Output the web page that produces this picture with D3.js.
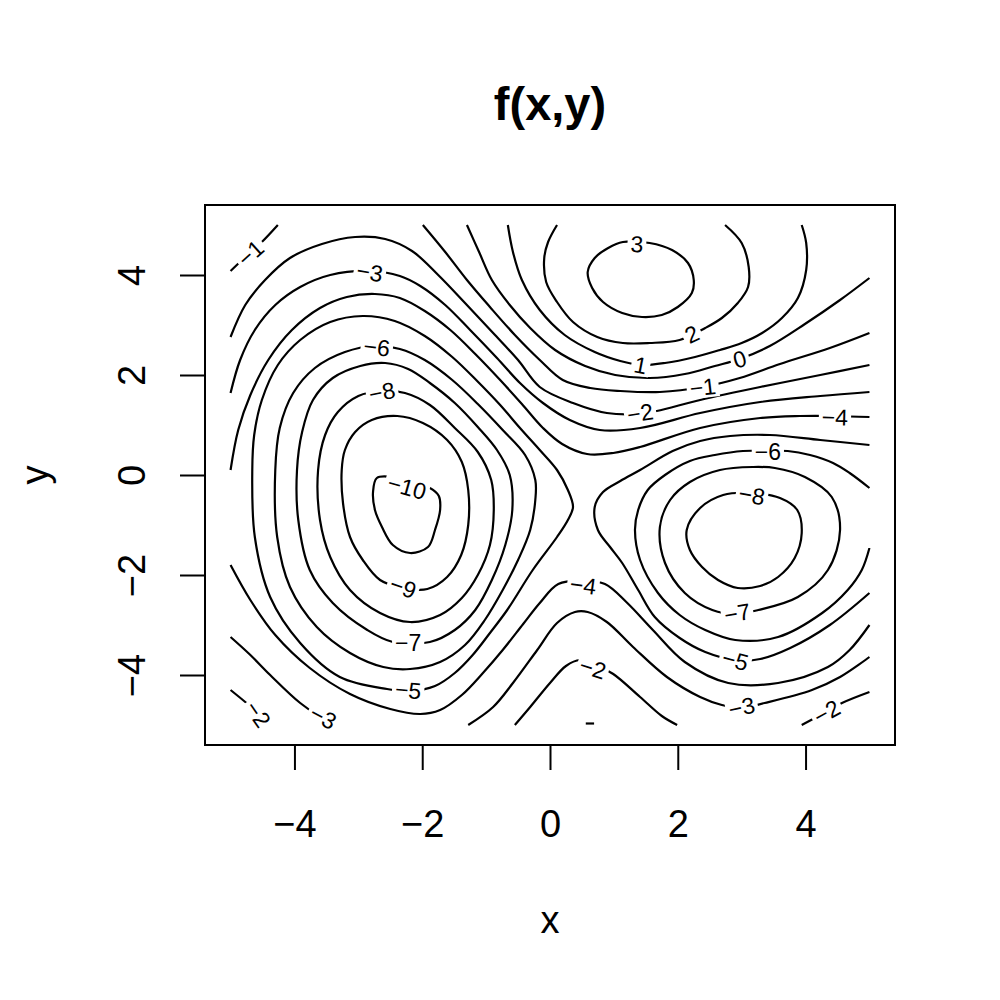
<!DOCTYPE html>
<html><head><meta charset="utf-8">
<script src="https://cdn.jsdelivr.net/npm/d3@7"></script>
<style>body{margin:0;background:#fff}svg{display:block}</style>
</head><body><svg id="chart" width="1000" height="1000"></svg>
<script>
const FONT = '"Liberation Sans", Arial, Helvetica, sans-serif';
const titleText = "f(x,y)", xLabel = "x", yLabel = "y";
const xTicks = [-4, -2, 0, 2, 4];
const yTicks = [-4, -2, 0, 2, 4];
const xDomain = [-5.4, 5.4], yDomain = [-5.4, 5.4];

// contour pieces, points [x, y]
const c3 = [[1.14,4.66],[1.56,4.64],[1.91,4.50],[2.16,4.24],[2.25,3.90],[2.22,3.64],[2.00,3.36],[1.75,3.20],[1.44,3.16],[1.13,3.24],[0.83,3.46],[0.66,3.74],[0.59,4.06],[0.70,4.34],[0.91,4.54]];
const c2 = [[0.11,5.00],[-0.03,4.66],[-0.09,4.34],[-0.06,3.86],[0.11,3.46],[0.36,3.06],[0.74,2.76],[1.14,2.64],[1.56,2.64],[2.03,2.70],[2.43,2.94],[2.69,3.14],[2.94,3.44],[3.10,3.76],[3.11,4.16],[3.00,4.64],[2.74,5.00]];
const c1 = [[-0.66,5.00],[-0.58,4.46],[-0.44,3.90],[-0.16,3.30],[0.23,2.80],[0.70,2.46],[1.10,2.28],[1.42,2.20],[1.80,2.24],[2.27,2.36],[2.66,2.50],[3.00,2.64],[3.32,2.84],[3.63,3.14],[3.88,3.54],[4.01,4.10],[4.01,4.64],[3.94,5.00]];
const c0 = [[-1.30,5.00],[-1.11,4.46],[-0.91,3.90],[-0.63,3.40],[-0.31,2.94],[0.08,2.50],[0.55,2.18],[1.02,2.00],[1.56,1.94],[2.11,2.02],[2.58,2.18],[2.97,2.32],[3.44,2.58],[3.99,3.02],[4.54,3.50],[5.00,3.94]];
const cm1Corner = [[-5.00,4.08],[-4.77,4.36],[-4.51,4.66],[-4.26,5.00]];
const cm1Main = [[-1.99,5.00],[-1.64,4.46],[-1.30,3.90],[-0.94,3.36],[-0.55,2.80],[-0.16,2.30],[0.20,1.90],[0.63,1.74],[1.10,1.68],[1.72,1.66],[2.39,1.76],[2.97,1.94],[3.60,2.22],[4.38,2.54],[5.00,2.84]];
const cm1Bottom = [[0.56,-4.97],[0.69,-4.97]];
const cm2Main = [[-5.00,2.76],[-4.77,3.40],[-4.46,3.90],[-4.07,4.34],[-3.57,4.62],[-3.05,4.76],[-2.58,4.72],[-2.16,4.48],[-1.75,4.00],[-1.33,3.44],[-0.89,2.84],[-0.50,2.30],[-0.16,1.76],[0.36,1.44],[0.89,1.24],[1.38,1.22],[1.67,1.28],[2.35,1.50],[3.29,1.76],[4.23,2.00],[5.00,2.20]];
const cm2BL = [[-5.00,-4.30],[-4.77,-4.54],[-4.57,-4.76],[-4.44,-5.00]];
const cm2Arch = [[-0.55,-5.00],[-0.31,-4.64],[0.00,-4.16],[0.25,-3.82],[0.47,-3.70],[0.72,-3.80],[0.99,-3.98],[1.41,-4.44],[1.75,-4.82],[1.99,-5.00]];
const cm2BR = [[3.94,-5.00],[4.23,-4.80],[4.57,-4.56],[5.00,-4.34]];
const cm3Main = [[-5.00,1.64],[-4.85,2.30],[-4.62,2.90],[-4.30,3.40],[-3.91,3.76],[-3.44,4.00],[-2.82,4.08],[-2.35,3.98],[-2.03,3.78],[-1.64,3.40],[-1.25,2.90],[-0.83,2.34],[-0.47,1.84],[-0.11,1.44],[0.31,1.10],[0.78,0.90],[1.41,0.94],[2.35,1.24],[3.29,1.46],[4.23,1.58],[5.00,1.66]];
const cm3BL = [[-5.00,-3.24],[-4.69,-3.60],[-4.38,-4.00],[-3.91,-4.56],[-3.57,-4.86],[-3.36,-5.00]];
const cm3Arch = [[-1.28,-5.00],[-0.89,-4.64],[-0.58,-4.16],[-0.20,-3.50],[0.11,-2.96],[0.39,-2.74],[0.59,-2.74],[0.89,-2.94],[1.30,-3.44],[1.83,-4.04],[2.35,-4.44],[2.69,-4.60],[3.00,-4.66],[3.36,-4.56],[4.10,-4.30],[4.54,-4.04],[5.00,-3.64]];
const cm4Upper = [[-5.00,0.10],[-4.88,0.90],[-4.69,1.60],[-4.41,2.30],[-4.04,2.90],[-3.60,3.34],[-3.18,3.56],[-2.74,3.62],[-2.35,3.54],[-1.96,3.28],[-1.56,2.90],[-1.17,2.42],[-0.78,1.90],[-0.44,1.42],[-0.11,0.94],[0.19,0.62],[0.58,0.42],[0.99,0.44],[1.41,0.56],[2.35,0.94],[3.29,1.14],[3.91,1.18],[4.46,1.18],[5.00,1.16]];
const cm4Lower = [[-5.00,-1.80],[-4.69,-2.50],[-4.30,-3.20],[-3.76,-3.86],[-3.13,-4.38],[-2.50,-4.68],[-2.03,-4.78],[-1.72,-4.70],[-1.38,-4.40],[-1.05,-3.96],[-0.74,-3.50],[-0.42,-2.98],[-0.16,-2.56],[0.13,-2.18],[0.52,-2.12],[0.86,-2.18],[1.21,-2.56],[1.61,-3.10],[2.11,-3.74],[2.79,-4.16],[3.57,-4.16],[4.35,-3.84],[4.69,-3.50],[5.00,-3.00]];
const cm5Left = [[-4.66,0.10],[-4.62,-1.24],[-4.38,-2.44],[-3.91,-3.36],[-3.29,-4.04],[-2.55,-4.28],[-2.19,-4.32],[-1.80,-4.22],[-1.49,-3.96],[-1.21,-3.60],[-0.94,-3.16],[-0.67,-2.70],[-0.27,-1.90],[0.11,-1.24],[0.28,-0.90],[0.36,-0.64],[0.28,-0.30],[0.11,0.10],[-0.16,0.50],[-0.47,0.94],[-0.78,1.40],[-1.14,1.88],[-1.53,2.36],[-1.96,2.78],[-2.43,3.08],[-2.93,3.18],[-3.44,3.06],[-3.91,2.70],[-4.26,2.20],[-4.51,1.50],[-4.63,0.80]];
const cm5Right = [[5.00,0.60],[4.23,0.70],[3.44,0.80],[2.82,0.78],[2.35,0.68],[1.92,0.48],[1.41,0.10],[1.10,-0.12],[0.83,-0.34],[0.70,-0.64],[0.75,-1.10],[0.94,-1.44],[1.13,-1.76],[1.38,-2.30],[1.64,-2.84],[2.03,-3.26],[2.43,-3.54],[2.90,-3.70],[3.29,-3.68],[3.76,-3.46],[4.38,-3.00],[5.00,-2.36]];
const cm6Left = [[-4.30,0.10],[-4.27,-1.24],[-4.07,-2.24],[-3.65,-3.04],[-3.13,-3.56],[-2.61,-3.84],[-2.19,-3.88],[-1.72,-3.74],[-1.33,-3.40],[-1.02,-2.90],[-0.74,-2.30],[-0.50,-1.70],[-0.31,-1.10],[-0.23,-0.50],[-0.23,-0.10],[-0.39,0.40],[-0.74,0.90],[-1.13,1.42],[-1.53,1.90],[-1.96,2.30],[-2.35,2.52],[-2.74,2.58],[-3.21,2.46],[-3.68,2.14],[-4.02,1.64],[-4.23,0.94]];
const cm6Right = [[5.00,-0.26],[4.69,0.04],[4.43,0.24],[4.07,0.40],[3.72,0.48],[3.41,0.48],[3.02,0.48],[2.58,0.40],[2.19,0.28],[1.80,0.00],[1.53,-0.30],[1.38,-0.70],[1.33,-1.10],[1.41,-1.70],[1.69,-2.36],[2.03,-2.80],[2.43,-3.10],[2.90,-3.30],[3.57,-3.24],[4.26,-2.76],[4.66,-2.30],[4.88,-1.90],[5.00,-1.46]];
const cm7Left = [[-3.96,0.10],[-3.94,-0.90],[-3.76,-1.90],[-3.40,-2.56],[-2.86,-3.10],[-2.46,-3.34],[-1.88,-3.34],[-1.49,-3.10],[-1.17,-2.70],[-0.91,-2.10],[-0.70,-1.40],[-0.59,-0.70],[-0.63,0.00],[-0.83,0.50],[-1.13,0.96],[-1.49,1.44],[-1.88,1.84],[-2.22,2.12],[-2.58,2.24],[-2.97,2.18],[-3.40,1.94],[-3.71,1.50],[-3.88,0.86]];
const cm7Right = [[1.72,-1.04],[1.80,-1.76],[2.11,-2.36],[2.54,-2.70],[2.90,-2.78],[3.26,-2.70],[3.88,-2.44],[4.35,-1.90],[4.54,-1.10],[4.41,-0.44],[3.99,-0.04],[3.52,0.14],[3.18,0.16],[2.66,0.10],[2.19,-0.14],[1.88,-0.50]];
const cm8Left = [[-3.63,0.10],[-3.60,-0.90],[-3.44,-1.64],[-3.13,-2.30],[-2.66,-2.76],[-2.19,-2.94],[-1.72,-2.80],[-1.38,-2.46],[-1.13,-2.00],[-0.94,-1.40],[-0.88,-0.70],[-0.92,-0.10],[-1.13,0.46],[-1.49,0.94],[-1.88,1.40],[-2.27,1.64],[-2.63,1.68],[-3.00,1.58],[-3.32,1.26],[-3.52,0.80]];
const cm8Right = [[2.14,-1.10],[2.19,-1.50],[2.38,-1.84],[2.63,-2.10],[2.94,-2.26],[3.29,-2.22],[3.57,-2.04],[3.83,-1.66],[3.94,-1.16],[3.87,-0.70],[3.60,-0.46],[3.16,-0.36],[2.71,-0.40],[2.35,-0.66]];
const cm9 = [[-3.26,0.10],[-3.24,-0.56],[-3.13,-1.24],[-2.93,-1.70],[-2.66,-2.10],[-2.30,-2.26],[-1.92,-2.28],[-1.61,-2.04],[-1.39,-1.60],[-1.28,-1.00],[-1.28,-0.30],[-1.38,0.26],[-1.61,0.70],[-1.99,1.04],[-2.39,1.18],[-2.79,1.10],[-3.05,0.86],[-3.21,0.50]];
const cm10 = [[-2.71,-0.06],[-2.77,-0.34],[-2.74,-0.70],[-2.63,-1.04],[-2.46,-1.40],[-2.19,-1.56],[-1.91,-1.44],[-1.80,-1.10],[-1.72,-0.70],[-1.74,-0.42],[-1.88,-0.26],[-2.19,-0.14],[-2.47,-0.04]];

// contour labels
const labelLevel = [3, 2, 1, 0, -1, -1, -2, -2, -2, -2, -3, -3, -3, -4, -4, -5, -5, -6, -6, -7, -7, -8, -8, -9, -10];
const labelX = [1.36, 2.22, 1.42, 2.97, 2.39, -4.69, 1.41, -4.57, 0.67, 4.33, -2.82, -3.55, 3.00, 4.46, 0.52, -2.22, 2.90, -2.71, 3.41, -2.22, 2.93, -2.63, 3.16, -2.30, -2.24];
const labelY = [4.62, 2.82, 2.20, 2.32, 1.76, 4.44, 1.24, -4.78, -3.86, -4.74, 4.06, -4.84, -4.64, 1.16, -2.20, -4.30, -3.70, 2.56, 0.46, -3.36, -2.76, 1.66, -0.40, -2.24, -0.24];

// table of pieces built from the arrays above
const pieces = [
  {level: 3, pts: c3, closed: true},
  {level: 2, pts: c2}, {level: 1, pts: c1}, {level: 0, pts: c0},
  {level: -1, pts: cm1Corner}, {level: -1, pts: cm1Main}, {level: -1, pts: cm1Bottom},
  {level: -2, pts: cm2Main}, {level: -2, pts: cm2BL}, {level: -2, pts: cm2Arch}, {level: -2, pts: cm2BR},
  {level: -3, pts: cm3Main}, {level: -3, pts: cm3BL}, {level: -3, pts: cm3Arch},
  {level: -4, pts: cm4Upper}, {level: -4, pts: cm4Lower},
  {level: -5, pts: cm5Left, closed: true}, {level: -5, pts: cm5Right},
  {level: -6, pts: cm6Left, closed: true}, {level: -6, pts: cm6Right},
  {level: -7, pts: cm7Left, closed: true}, {level: -7, pts: cm7Right, closed: true},
  {level: -8, pts: cm8Left, closed: true}, {level: -8, pts: cm8Right, closed: true},
  {level: -9, pts: cm9, closed: true}, {level: -10, pts: cm10, closed: true}
];

const svg = d3.select("#chart");
const x = d3.scaleLinear().domain(xDomain).range([205, 895]);
const y = d3.scaleLinear().domain(yDomain).range([745, 205]);
const fmt = d => (d < 0 ? "\u2212" + Math.abs(d) : String(d));

svg.append("rect").attr("width", 1000).attr("height", 1000).attr("fill", "#fff");

// contour lines
const lineOpen = d3.line().x(d => x(d[0])).y(d => y(d[1])).curve(d3.curveCatmullRom.alpha(0.5));
const lineClosed = d3.line().x(d => x(d[0])).y(d => y(d[1])).curve(d3.curveCatmullRomClosed.alpha(0.5));
svg.append("g").selectAll("path").data(pieces).join("path")
  .attr("d", p => (p.closed ? lineClosed : lineOpen)(p.pts))
  .attr("fill", "none").attr("stroke", "#000").attr("stroke-width", 2.2)
  .attr("stroke-linejoin", "round");

// label angle from the nearest segment of the same level
function labelAngle(level, px, py) {
  let best = Infinity, ang = 0;
  pieces.filter(p => p.level === level).forEach(p => {
    const pts = p.pts.map(d => [x(d[0]), y(d[1])]);
    if (p.closed) pts.push(pts[0]);
    for (let i = 0; i < pts.length - 1; i++) {
      const [ax, ay] = pts[i], [bx, by] = pts[i + 1];
      const dx = bx - ax, dy = by - ay, L = dx * dx + dy * dy;
      let t = L ? ((px - ax) * dx + (py - ay) * dy) / L : 0;
      t = Math.max(0, Math.min(1, t));
      const qx = ax + t * dx - px, qy = ay + t * dy - py, dist = qx * qx + qy * qy;
      if (dist < best) { best = dist; ang = Math.atan2(dy, dx) * 180 / Math.PI; }
    }
  });
  if (ang > 90) ang -= 180;
  if (ang < -90) ang += 180;
  return ang;
}

const labG = svg.append("g");
labelLevel.forEach((lv, i) => {
  const px = x(labelX[i]), py = y(labelY[i]);
  const g = labG.append("g").attr("transform", `translate(${px},${py}) rotate(${labelAngle(lv, px, py)})`);
  const r = g.append("rect").attr("fill", "#fff");
  const t = g.append("text").text(fmt(lv)).attr("text-anchor", "middle").attr("dy", "0.36em")
    .attr("font-family", FONT).attr("font-size", 23).attr("fill", "#000");
  const w = t.node().getComputedTextLength();
  r.attr("x", -w / 2 - 3).attr("y", -11).attr("width", w + 6).attr("height", 22);
});

// plot box
svg.append("rect").attr("x", 205).attr("y", 205).attr("width", 690).attr("height", 540)
  .attr("fill", "none").attr("stroke", "#000").attr("stroke-width", 2);

// x axis
const gx = svg.append("g").attr("transform", "translate(0,745)")
  .call(d3.axisBottom(x).tickValues(xTicks).tickSize(25).tickPadding(40).tickFormat(fmt));
gx.attr("font-family", FONT).attr("font-size", 38);
gx.select(".domain").remove();
gx.selectAll(".tick line").attr("stroke", "#000").attr("stroke-width", 2);
gx.selectAll(".tick text").attr("fill", "#000");

// y axis
const gy = svg.append("g").attr("transform", "translate(205,0)")
  .call(d3.axisLeft(y).tickValues(yTicks).tickSize(25).tickFormat(fmt));
gy.attr("font-family", FONT).attr("font-size", 38);
gy.select(".domain").remove();
gy.selectAll(".tick line").attr("stroke", "#000").attr("stroke-width", 2);
gy.selectAll(".tick text").attr("fill", "#000").attr("transform", "rotate(-90)")
  .attr("x", 0).attr("y", -60).attr("dy", 0).attr("text-anchor", "middle");

// titles
svg.append("text").attr("x", 550).attr("y", 120).attr("text-anchor", "middle")
  .attr("font-family", FONT).attr("font-size", 47).attr("font-weight", "bold").text(titleText);
svg.append("text").attr("x", 550).attr("y", 933).attr("text-anchor", "middle")
  .attr("font-family", FONT).attr("font-size", 38).text(xLabel);
svg.append("text").attr("transform", "translate(48,475) rotate(-90)").attr("text-anchor", "middle")
  .attr("font-family", FONT).attr("font-size", 38).text(yLabel);
</script></body></html>
